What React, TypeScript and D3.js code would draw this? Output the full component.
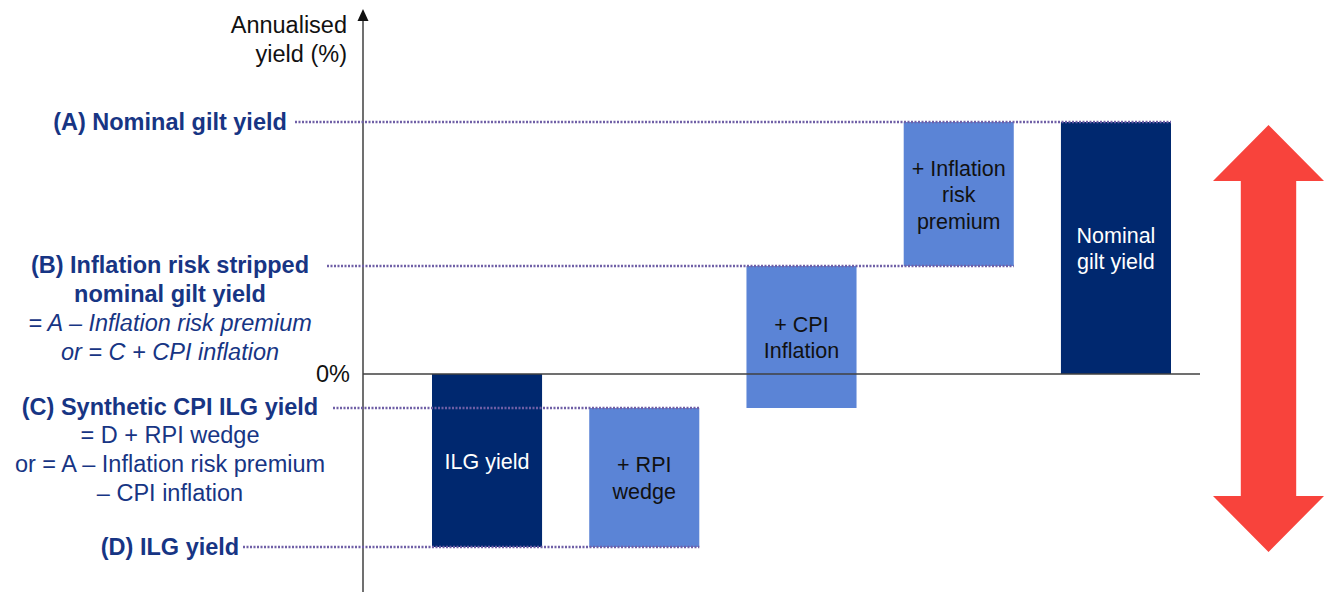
import React from "react";
import * as d3 from "d3";

// Waterfall decomposition of the nominal gilt yield (annualised %, illustrative)
const categories = ["ILG yield", "+ RPI wedge", "+ CPI Inflation", "+ Inflation risk premium", "Nominal gilt yield"];
const barLines = [["ILG yield"], ["+ RPI", "wedge"], ["+ CPI", "Inflation"], ["+ Inflation", "risk", "premium"], ["Nominal", "gilt yield"]];
const ilgYield = -3.46;
const rpiWedge = 2.78;
const cpiInflation = 2.84;
const inflationRiskPremium = 2.88;
const yDomain = [-4.36, 7.28];

const levelD = ilgYield;
const levelC = levelD + rpiWedge;
const levelB = levelC + cpiInflation;
const levelA = levelB + inflationRiskPremium;

const barStart = [0, levelD, levelC, levelB, 0];
const barEnd = [levelD, levelC, levelB, levelA, levelA];
const barDark = [true, false, false, false, true];

const W = 1327;
const H = 592;
const FONT = "'Liberation Sans', Arial, Helvetica, sans-serif";
const NAVY = "#00286f";
const LIGHT = "#5b84d6";
const LABEL = "#173584";
const DOT = "#6f5fa6";
const RED = "#f8433c";

export default function App() {
  const x = d3.scaleBand<string>().domain(categories).range([432, 1171]).paddingInner(0.3).paddingOuter(0);
  const y = d3.scaleLinear().domain(yDomain).range([H, 10]);
  const axisX = 363;
  const bw = x.bandwidth();

  const right = (i: number) => (x(categories[i]) as number) + bw;

  // Reference levels: dotted guide from the left label to the relevant bar
  const guides = [
    { v: levelA, x0: 295, x1: right(4) },
    { v: levelB, x0: 327, x1: right(3) },
    { v: levelC, x0: 333, x1: right(1) },
    { v: levelD, x0: 243, x1: right(1) },
  ];

  // Double-headed arrow spanning the full range of yields
  const ax = 1268.5;
  const topY = y(levelA) + 3;
  const botY = y(levelD) + 5;
  const headH = 56;
  const headW = 55.5;
  const shaftW = 27.7;
  const arrowPts = [
    [ax, topY],
    [ax + headW, topY + headH],
    [ax + shaftW, topY + headH],
    [ax + shaftW, botY - headH],
    [ax + headW, botY - headH],
    [ax, botY],
    [ax - headW, botY - headH],
    [ax - shaftW, botY - headH],
    [ax - shaftW, topY + headH],
    [ax - headW, topY + headH],
  ];

  const lbl = (lines: { t: string; y: number; bold?: boolean; italic?: boolean }[]) =>
    lines.map((l, i) => (
      <text
        key={l.t + i}
        x={170}
        y={l.y}
        textAnchor="middle"
        fontSize={23.5}
        fontWeight={l.bold ? "bold" : "normal"}
        fontStyle={l.italic ? "italic" : "normal"}
        fill={LABEL}
      >
        {l.t}
      </text>
    ));

  return (
    <svg width={W} height={H} style={{ position: "absolute", left: 0, top: 0, fontFamily: FONT }}>
      <rect width={W} height={H} fill="#fff" />

      {/* bars */}
      {categories.map((c, i) => {
        const y0 = y(Math.max(barStart[i], barEnd[i]));
        const y1 = y(Math.min(barStart[i], barEnd[i]));
        const cx = (x(c) as number) + bw / 2;
        const cy = (y0 + y1) / 2;
        const lines = barLines[i];
        const lh = 26.5;
        return (
          <g key={c}>
            <rect x={x(c)} y={y0} width={bw} height={y1 - y0} fill={barDark[i] ? NAVY : LIGHT} />
            {lines.map((t, j) => (
              <text
                key={t}
                x={cx}
                y={cy + (j - (lines.length - 1) / 2) * lh + 8}
                textAnchor="middle"
                fontSize={21.5}
                fill={barDark[i] ? "#fff" : "#111"}
              >
                {t}
              </text>
            ))}
          </g>
        );
      })}

      {/* axes */}
      <line x1={axisX} x2={axisX} y1={20} y2={H} stroke="#404040" strokeWidth={1.5} />
      <polygon points={`${axisX},9 ${axisX - 5.5},21 ${axisX + 5.5},21`} fill="#111" />
      <line x1={axisX} x2={1200} y1={y(0)} y2={y(0)} stroke="#404040" strokeWidth={1.5} />

      {/* dotted guides */}
      {guides.map((g, i) => (
        <line
          key={i}
          x1={g.x0}
          x2={g.x1}
          y1={y(g.v)}
          y2={y(g.v)}
          stroke={DOT}
          strokeWidth={2.4}
          strokeDasharray="2 1.5"
        />
      ))}

      {/* axis title and zero label */}
      <text x={347} y={33} textAnchor="end" fontSize={23.5} fill="#111">Annualised</text>
      <text x={347} y={62} textAnchor="end" fontSize={23.5} fill="#111">yield (%)</text>
      <text x={350} y={y(0) + 8} textAnchor="end" fontSize={23.5} fill="#111">0%</text>

      {/* level descriptions */}
      {lbl([{ t: "(A) Nominal gilt yield", y: 130, bold: true }])}
      {lbl([
        { t: "(B) Inflation risk stripped", y: 273, bold: true },
        { t: "nominal gilt yield", y: 302, bold: true },
        { t: "= A – Inflation risk premium", y: 331, italic: true },
        { t: "or = C + CPI inflation", y: 360, italic: true },
      ])}
      {lbl([
        { t: "(C) Synthetic CPI ILG yield", y: 415, bold: true },
        { t: "= D + RPI wedge", y: 443 },
        { t: "or = A – Inflation risk premium", y: 472 },
        { t: "– CPI inflation", y: 501 },
      ])}
      {lbl([{ t: "(D) ILG yield", y: 555, bold: true }])}

      {/* range arrow */}
      <polygon points={arrowPts.map((p) => p.join(",")).join(" ")} fill={RED} />
    </svg>
  );
}
